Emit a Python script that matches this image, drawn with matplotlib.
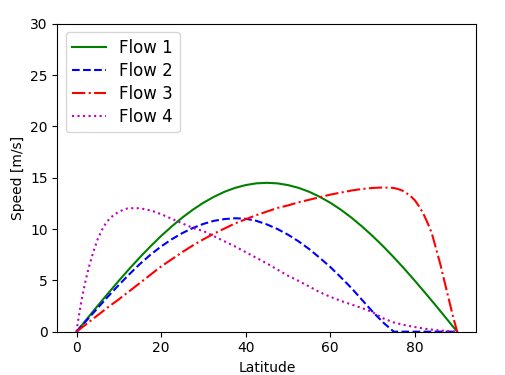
import matplotlib
matplotlib.use("Agg")
import matplotlib.pyplot as plt

# latitude grids and speeds
lat_1 = [0, 2.5, 5, 7.5, 10, 12.5, 15, 17.5, 20, 22.5, 25, 27.5, 30, 32.5, 35, 37.5, 40, 42.5,
         45, 47.5, 50, 52.5, 55, 57.5, 60, 62.5, 65, 67.5, 70, 72.5, 75, 77.5, 80, 82.5, 85, 87.5, 90]
flow_1 = [0, 1.26, 2.52, 3.75, 4.96, 6.13, 7.25, 8.32, 9.32, 10.25, 11.11, 11.88, 12.56, 13.14, 13.63,
          14.01, 14.28, 14.45, 14.5, 14.45, 14.28, 14.01, 13.63, 13.14, 12.56, 11.88, 11.11, 10.25,
          9.32, 8.32, 7.25, 6.13, 4.96, 3.75, 2.52, 1.26, 0]

lat_2 = lat_1
flow_2 = [0, 1.15, 2.3, 3.45, 4.55, 5.6, 6.6, 7.5, 8.3, 9.0, 9.6, 10.1, 10.5, 10.8, 10.97, 11.05,
          11.0, 10.8, 10.45, 10.0, 9.45, 8.8, 8.05, 7.2, 6.3, 5.3, 4.25, 3.1, 1.95, 0.9, 0,
          0, 0, 0, 0, 0, 0]

lat_3 = [0, 2.5, 5, 7.5, 10, 12.5, 15, 17.5, 20, 22.5, 25, 27.5, 30, 32.5, 35, 37.5, 40, 42.5,
         45, 47.5, 50, 52.5, 55, 57.5, 60, 62.5, 65, 67.5, 70, 72.5, 75, 76, 77, 78, 79, 80,
         81, 82, 83, 84, 85, 86, 87, 88, 89, 90]
flow_3 = [0, 0.8, 1.6, 2.4, 3.15, 3.95, 4.75, 5.55, 6.35, 7.05, 7.75, 8.4, 9.0, 9.55, 10.05, 10.55,
          10.95, 11.35, 11.7, 12.05, 12.3, 12.6, 12.85, 13.1, 13.35, 13.55, 13.75, 13.9, 14.0,
          14.05, 14.0, 13.9, 13.75, 13.5, 13.2, 12.8, 12.2, 11.5, 10.6, 9.6, 8.1, 6.6, 4.9, 3.2,
          1.5, 0]

lat_4 = [0, 0.5, 1, 1.5, 2, 2.5, 3, 4, 5, 6, 7, 8, 10, 12, 14, 16, 18, 20, 22.5, 25, 27.5, 30,
         32.5, 35, 37.5, 40, 42.5, 45, 47.5, 50, 52.5, 55, 57.5, 60, 62.5, 65, 67.5, 70, 72.5,
         75, 77.5, 80, 82.5, 85, 87.5, 90]
flow_4 = [0, 1.4, 2.6, 3.7, 4.7, 5.6, 6.4, 7.8, 9.0, 9.9, 10.6, 11.1, 11.7, 12.0, 12.05, 11.95,
          11.75, 11.45, 11.0, 10.55, 10.1, 9.8, 9.3, 8.8, 8.3, 7.75, 7.2, 6.65, 6.05, 5.45, 4.95,
          4.4, 3.85, 3.4, 3.0, 2.65, 2.3, 1.9, 1.3, 0.9, 0.65, 0.45, 0.28, 0.15, 0.06, 0]

fig = plt.figure(figsize=(5.06, 3.75), dpi=100)
ax = fig.add_axes([0.1136, 0.1155, 0.8275, 0.8213])

ax.plot(lat_1, flow_1, 'g-', label='Flow 1')
ax.plot(lat_2, flow_2, 'b--', label='Flow 2')
ax.plot(lat_3, flow_3, 'r-.', label='Flow 3')
ax.plot(lat_4, flow_4, 'm:', label='Flow 4')

ax.set_ylim(0, 30)
ax.set_xlabel('Latitude')
ax.set_ylabel('Speed [m/s]')
ax.legend(loc='upper left', fontsize=12, labelspacing=0.3)

fig.savefig('out.png', dpi=100)
